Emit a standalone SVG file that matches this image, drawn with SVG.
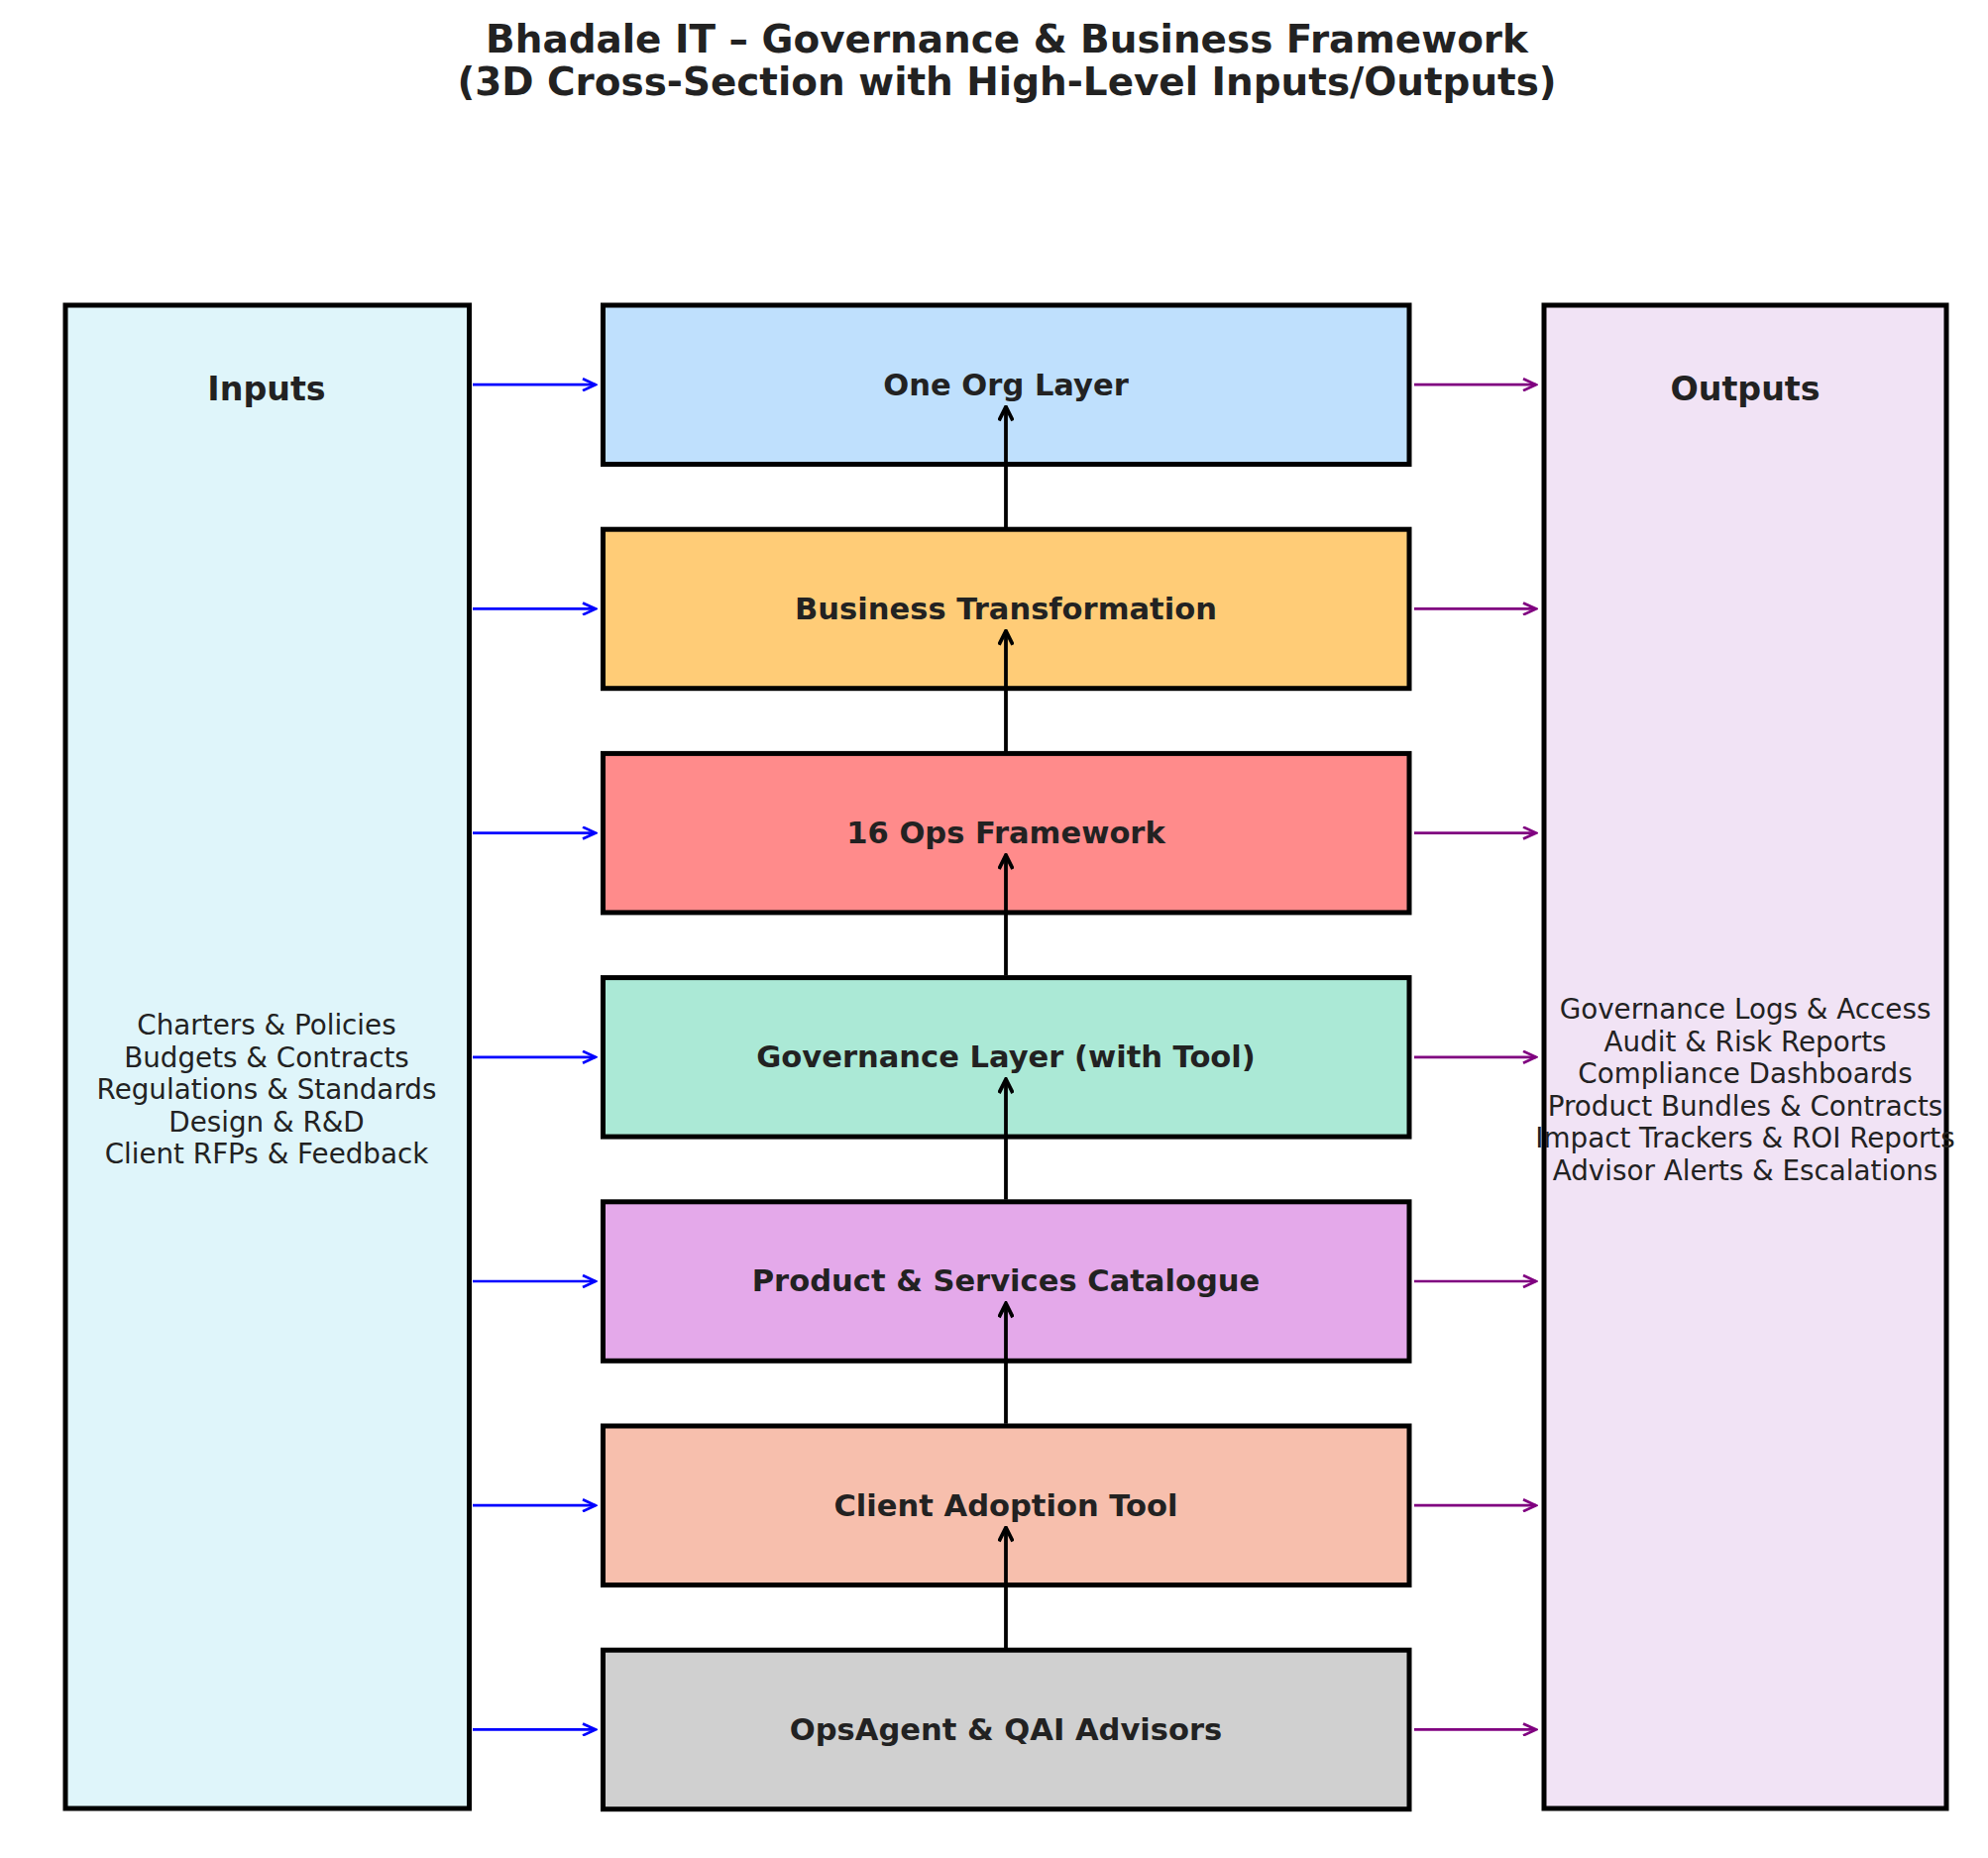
<svg xmlns="http://www.w3.org/2000/svg" width="2006" height="1875" viewBox="0 0 2006 1875">
<style>
  text { font-family: "DejaVu Sans", "Liberation Sans", sans-serif; fill: #222222; }
  .title { font-size: 38.9px; font-weight: bold; text-anchor: middle; }
  .head { font-size: 33.3px; font-weight: bold; text-anchor: middle; }
  .lbl { font-size: 30.56px; font-weight: bold; text-anchor: middle; }
  .list { font-size: 27.78px; text-anchor: middle; }
  .box { stroke: #000000; stroke-width: 5; }
  .in { stroke: #0000FF; stroke-width: 2.7; fill: none; }
  .out { stroke: #800080; stroke-width: 2.7; fill: none; }
  .up { stroke: #000000; stroke-width: 3.8; fill: none; }
</style>
<defs>
  <marker id="mBlue" markerUnits="userSpaceOnUse" viewBox="0 0 16 14" markerWidth="16" markerHeight="14" refX="14.5" refY="7" orient="auto">
    <path d="M1.5,1 L14.5,7 L1.5,13" fill="none" stroke="#0000FF" stroke-width="2.7"/>
  </marker>
  <marker id="mPurple" markerUnits="userSpaceOnUse" viewBox="0 0 16 14" markerWidth="16" markerHeight="14" refX="14.5" refY="7" orient="auto">
    <path d="M1.5,1 L14.5,7 L1.5,13" fill="none" stroke="#800080" stroke-width="2.7"/>
  </marker>
  <marker id="mBlack" markerUnits="userSpaceOnUse" viewBox="0 0 18 16" markerWidth="18" markerHeight="16" refX="16" refY="8" orient="auto">
    <path d="M2,1 L16,8 L2,15" fill="none" stroke="#000000" stroke-width="3.8"/>
  </marker>
</defs>
<rect width="2006" height="1875" fill="#FFFFFF"/>

<g id="title">
  <text class="title" x="1016" y="53">Bhadale IT – Governance &amp; Business Framework</text>
  <text class="title" x="1016" y="96">(3D Cross-Section with High-Level Inputs/Outputs)</text>
</g>

<g id="inputs">
  <rect class="box" x="66" y="308" width="407.5" height="1517" fill="#DFF5FA"/>
  <text class="head" x="269" y="404">Inputs</text>
  <text class="list" x="269" y="1044">Charters &amp; Policies</text>
  <text class="list" x="269" y="1076.5">Budgets &amp; Contracts</text>
  <text class="list" x="269" y="1109">Regulations &amp; Standards</text>
  <text class="list" x="269" y="1141.5">Design &amp; R&amp;D</text>
  <text class="list" x="269" y="1174">Client RFPs &amp; Feedback</text>
</g>

<g id="outputs">
  <rect class="box" x="1558" y="308" width="406" height="1517" fill="#F1E3F5"/>
  <text class="head" x="1761" y="404">Outputs</text>
  <text class="list" x="1761" y="1028">Governance Logs &amp; Access</text>
  <text class="list" x="1761" y="1060.5">Audit &amp; Risk Reports</text>
  <text class="list" x="1761" y="1093">Compliance Dashboards</text>
  <text class="list" x="1761" y="1125.5">Product Bundles &amp; Contracts</text>
  <text class="list" x="1761" y="1158">Impact Trackers &amp; ROI Reports</text>
  <text class="list" x="1761" y="1190.5">Advisor Alerts &amp; Escalations</text>
</g>

<g id="layer-one-org">
  <rect class="box" x="608.5" y="308" width="813.5" height="160.5" fill="#BFE0FD"/>
  <text class="lbl" x="1015" y="398.5">One Org Layer</text>
</g>
<g id="layer-business-transformation">
  <rect class="box" x="608.5" y="534.2" width="813.5" height="160.5" fill="#FFCC77"/>
  <text class="lbl" x="1015" y="624.7">Business Transformation</text>
</g>
<g id="layer-16-ops">
  <rect class="box" x="608.5" y="760.4" width="813.5" height="160.5" fill="#FF8B8B"/>
  <text class="lbl" x="1015" y="850.9">16 Ops Framework</text>
</g>
<g id="layer-governance">
  <rect class="box" x="608.5" y="986.6" width="813.5" height="160.5" fill="#ABE9D6"/>
  <text class="lbl" x="1015" y="1077.1">Governance Layer (with Tool)</text>
</g>
<g id="layer-catalogue">
  <rect class="box" x="608.5" y="1212.8" width="813.5" height="160.5" fill="#E4A9EA"/>
  <text class="lbl" x="1015" y="1303.3">Product &amp; Services Catalogue</text>
</g>
<g id="layer-client-adoption">
  <rect class="box" x="608.5" y="1439" width="813.5" height="160.5" fill="#F7BFAD"/>
  <text class="lbl" x="1015" y="1529.5">Client Adoption Tool</text>
</g>
<g id="layer-opsagent">
  <rect class="box" x="608.5" y="1665.2" width="813.5" height="160.5" fill="#D0D0D0"/>
  <text class="lbl" x="1015" y="1755.7">OpsAgent &amp; QAI Advisors</text>
</g>

<g id="connectors">
  <line class="in" x1="477" y1="388.2" x2="601" y2="388.2" marker-end="url(#mBlue)"/>
  <line class="in" x1="477" y1="614.4" x2="601" y2="614.4" marker-end="url(#mBlue)"/>
  <line class="in" x1="477" y1="840.6" x2="601" y2="840.6" marker-end="url(#mBlue)"/>
  <line class="in" x1="477" y1="1066.8" x2="601" y2="1066.8" marker-end="url(#mBlue)"/>
  <line class="in" x1="477" y1="1293" x2="601" y2="1293" marker-end="url(#mBlue)"/>
  <line class="in" x1="477" y1="1519.2" x2="601" y2="1519.2" marker-end="url(#mBlue)"/>
  <line class="in" x1="477" y1="1745.4" x2="601" y2="1745.4" marker-end="url(#mBlue)"/>

  <line class="out" x1="1427" y1="388.2" x2="1550" y2="388.2" marker-end="url(#mPurple)"/>
  <line class="out" x1="1427" y1="614.4" x2="1550" y2="614.4" marker-end="url(#mPurple)"/>
  <line class="out" x1="1427" y1="840.6" x2="1550" y2="840.6" marker-end="url(#mPurple)"/>
  <line class="out" x1="1427" y1="1066.8" x2="1550" y2="1066.8" marker-end="url(#mPurple)"/>
  <line class="out" x1="1427" y1="1293" x2="1550" y2="1293" marker-end="url(#mPurple)"/>
  <line class="out" x1="1427" y1="1519.2" x2="1550" y2="1519.2" marker-end="url(#mPurple)"/>
  <line class="out" x1="1427" y1="1745.4" x2="1550" y2="1745.4" marker-end="url(#mPurple)"/>

  <line class="up" x1="1015" y1="532" x2="1015" y2="410.5" marker-end="url(#mBlack)"/>
  <line class="up" x1="1015" y1="758.2" x2="1015" y2="636.7" marker-end="url(#mBlack)"/>
  <line class="up" x1="1015" y1="984.4" x2="1015" y2="862.9" marker-end="url(#mBlack)"/>
  <line class="up" x1="1015" y1="1210.6" x2="1015" y2="1089.1" marker-end="url(#mBlack)"/>
  <line class="up" x1="1015" y1="1436.8" x2="1015" y2="1315.3" marker-end="url(#mBlack)"/>
  <line class="up" x1="1015" y1="1663" x2="1015" y2="1541.5" marker-end="url(#mBlack)"/>
</g>
</svg>
